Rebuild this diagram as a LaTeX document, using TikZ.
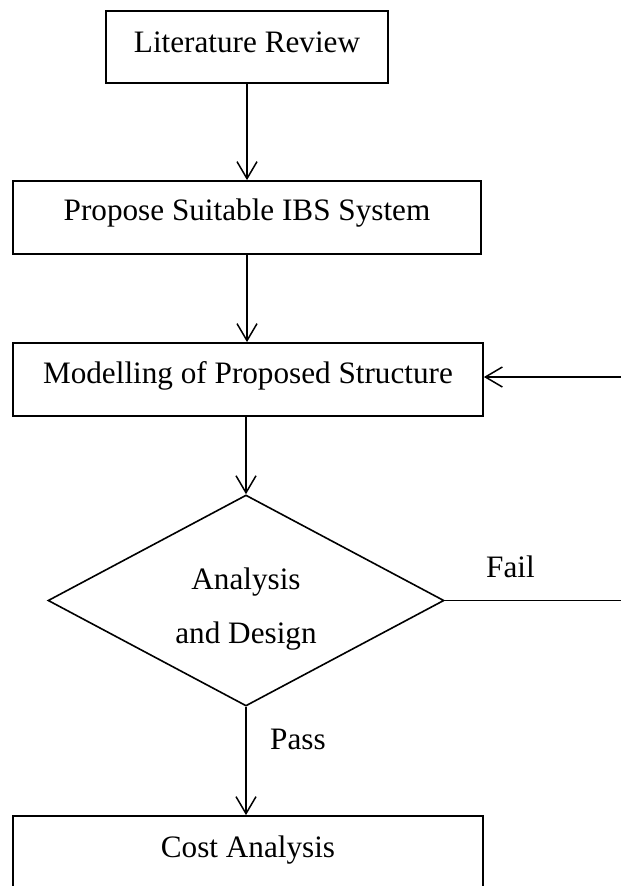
\documentclass[tikz,border=0pt]{standalone}
\usepackage{fontspec}
\setmainfont{Liberation Serif}
\usetikzlibrary{shapes.geometric,arrows.meta}
\begin{document}
\begin{tikzpicture}[x=1pt,y=-1pt,
  every node/.style={font=\fontsize{31.2}{54}\selectfont},
  stepbox/.style={draw, line width=1.8pt, rectangle, inner sep=0pt, text height=21pt},
  decision/.style={draw, line width=1.6pt, diamond, inner sep=0pt, minimum width=396pt, minimum height=211pt},
  arr/.style={line width=1.5pt, -{Straight Barb[length=17pt,width=20pt,line width=1.5pt]}},
  ln/.style={line width=1.5pt}]
\useasboundingbox (0,0) rectangle (621,886);
\clip (0,0) rectangle (621,886);
\node[stepbox, minimum width=282pt, minimum height=72pt, text depth=11pt] (lit) at (247,47) {Literature Review};
\node[stepbox, minimum width=468pt, minimum height=73pt, text depth=16pt] (ibs) at (247,217.5) {Propose Suitable IBS System};
\node[stepbox, minimum width=470pt, minimum height=73pt, text depth=14pt] (model) at (248,379.5) {Modelling of Proposed Structure};
\node[decision] (ad) at (246,600.5) {};
\node[align=center, inner sep=0pt] (adt) at (246,609) {Analysis\\and Design};
\node[stepbox, minimum width=470pt, minimum height=140pt, text depth=79pt] (cost) at (248,886) {Cost Analysis};
\node[anchor=base west, inner sep=0pt] (fail) at (486,577) {Fail};
\node[anchor=base west, inner sep=0pt] (pass) at (270,749) {Pass};
\coordinate (failend) at (630,600.5);
\coordinate (fbstart) at (630,377);
\draw[arr] (lit.south -| 247,0) -- (ibs.north -| 247,0);
\draw[arr] (ibs.south -| 247,0) -- (model.north -| 247,0);
\draw[arr] (model.south -| 246,0) -- (ad.north);
\draw[arr] (ad.south) -- (cost.north -| ad.south);
\draw[ln] (ad.east) -- (failend);
\draw[arr] (fbstart) -- (fbstart -| model.east);
\end{tikzpicture}
\end{document}
